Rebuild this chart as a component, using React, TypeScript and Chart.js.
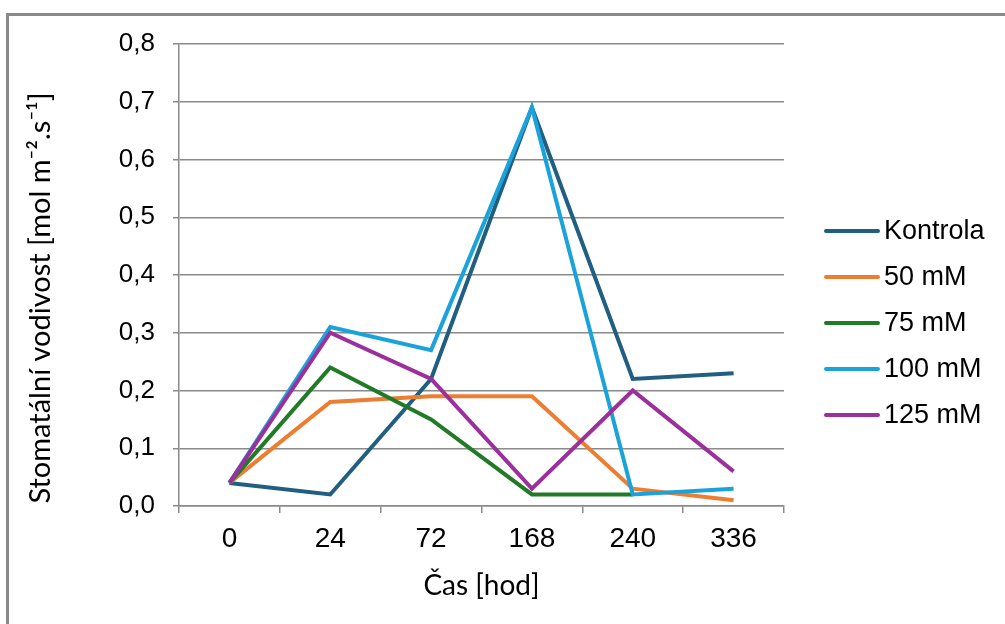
import React, { useEffect, useRef } from "react";
import { Chart, registerables } from "chart.js";

Chart.register(...registerables);

const categories = ["0", "24", "72", "168", "240", "336"];
const kontrola = [0.04, 0.02, 0.22, 0.69, 0.22, 0.23];
const mm50 = [0.04, 0.18, 0.19, 0.19, 0.03, 0.01];
const mm75 = [0.04, 0.24, 0.15, 0.02, 0.02, null];
const mm100 = [0.04, 0.31, 0.27, 0.69, 0.02, 0.03];
const mm125 = [0.04, 0.3, 0.22, 0.03, 0.2, 0.06];

const seriesNames = ["Kontrola", "50 mM", "75 mM", "100 mM", "125 mM"];
const seriesValues = [kontrola, mm50, mm75, mm100, mm125];
const seriesColors = ["#215F80", "#ED7D31", "#217A26", "#1AA3DA", "#9B2F9B"];

const yTitle = "Stomatální vodivost [mol m\u207B\u00B2.s\u207B\u00B9]";
const xTitle = "Čas [hod]";

const GRID = "#8a8a8a";

const framePlugin = {
  id: "frame",
  beforeDraw(chart: any) {
    const ctx = chart.ctx;
    ctx.save();
    ctx.fillStyle = "#ffffff";
    ctx.fillRect(0, 0, chart.width, chart.height);
    ctx.strokeStyle = "#8a8a8a";
    ctx.lineWidth = 3;
    ctx.beginPath();
    ctx.moveTo(7.5, chart.height);
    ctx.lineTo(7.5, 14.5);
    ctx.lineTo(chart.width, 14.5);
    ctx.stroke();
    ctx.restore();
  },
};

const yTitlePlugin = {
  id: "yTitle",
  afterDraw(chart: any) {
    const ctx = chart.ctx;
    ctx.save();
    ctx.translate(41, 298);
    ctx.rotate(-Math.PI / 2);
    ctx.font = "29px Lato, 'Open Sans', sans-serif";
    ctx.fillStyle = "#000000";
    ctx.textAlign = "center";
    ctx.textBaseline = "middle";
    ctx.fillText(yTitle, 0, 0);
    ctx.restore();
  },
};

const legendPlugin = {
  id: "customLegend",
  afterDraw(chart: any) {
    const ctx = chart.ctx;
    ctx.save();
    ctx.font = "27px 'Liberation Sans', Arial, sans-serif";
    ctx.textBaseline = "middle";
    ctx.textAlign = "left";
    seriesNames.forEach((name, i) => {
      const y = 231 + i * 46;
      ctx.strokeStyle = seriesColors[i];
      ctx.lineWidth = 4;
      ctx.lineCap = "round";
      ctx.beginPath();
      ctx.moveTo(826, y);
      ctx.lineTo(878, y);
      ctx.stroke();
      ctx.fillStyle = "#000000";
      ctx.fillText(name, 884, y + 1);
    });
    ctx.restore();
  },
};

export default function App() {
  const canvasRef = useRef<HTMLCanvasElement | null>(null);

  useEffect(() => {
    document.body.style.margin = "0";
    const canvas = canvasRef.current;
    if (!canvas) return;
    const chart = new Chart(canvas, {
      type: "line",
      data: {
        labels: categories,
        datasets: seriesValues.map((vals, i) => ({
          label: seriesNames[i],
          data: vals,
          borderColor: seriesColors[i],
          backgroundColor: seriesColors[i],
          borderWidth: 4,
          pointRadius: 0,
          tension: 0,
          fill: false,
          spanGaps: false,
          order: seriesNames.length - i,
        })),
      },
      options: {
        animation: false,
        responsive: false,
        devicePixelRatio: 1,
        layout: { padding: { top: 44, right: 221, bottom: 0, left: 0 } },
        plugins: {
          legend: { display: false },
          tooltip: { enabled: false },
        },
        scales: {
          x: {
            type: "category",
            offset: true,
            afterFit: (scale: any) => {
              scale.height = 118;
            },
            grid: {
              offset: true,
              drawOnChartArea: false,
              drawTicks: true,
              tickLength: 7,
              color: GRID,
              lineWidth: 1.5,
            },
            border: { display: true, color: GRID, width: 1.5 },
            ticks: {
              color: "#000000",
              font: { family: "'Liberation Sans', Arial, sans-serif", size: 28 },
              padding: 9,
              maxRotation: 0,
              autoSkip: false,
            },
            title: {
              display: true,
              text: xTitle,
              color: "#000000",
              font: { family: "Lato, 'Open Sans', sans-serif", size: 28 },
              padding: { top: 0, bottom: 21 },
            },
          },
          y: {
            min: 0,
            max: 0.8,
            afterFit: (scale: any) => {
              scale.width = 179;
            },
            grid: {
              drawTicks: true,
              tickLength: 6,
              color: GRID,
              lineWidth: 1.5,
            },
            border: { display: true, color: GRID, width: 1.5 },
            ticks: {
              stepSize: 0.1,
              color: "#000000",
              font: { family: "'Liberation Sans', Arial, sans-serif", size: 26 },
              padding: 18,
              callback: (v: any) => Number(v).toFixed(1).replace(".", ","),
            },
          },
        },
      },
      plugins: [framePlugin, yTitlePlugin, legendPlugin],
    });
    return () => chart.destroy();
  }, []);

  return (
    <div style={{ width: 1005, height: 624, position: "relative" }}>
      <canvas ref={canvasRef} width={1005} height={624} style={{ display: "block" }} />
    </div>
  );
}
